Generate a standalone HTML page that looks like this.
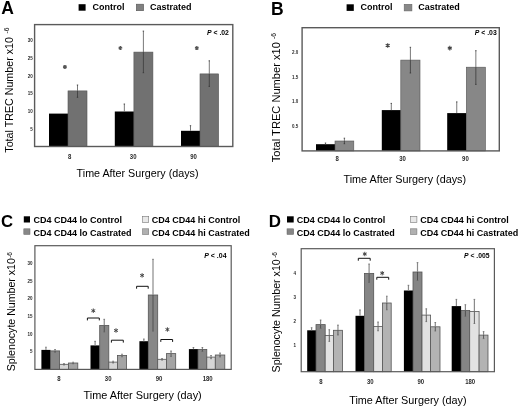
<!DOCTYPE html>
<html><head><meta charset="utf-8"><title>Figure</title>
<style>
html,body{margin:0;padding:0;background:#fff;}
body{width:520px;height:409px;overflow:hidden;}
svg{display:block;font-family:"Liberation Sans", sans-serif;filter:grayscale(1) blur(0.3px);}
</style></head>
<body>
<svg width="520" height="409" viewBox="0 0 520 409" font-family='"Liberation Sans", sans-serif'>
<rect x="0" y="0" width="520" height="409" fill="#fff"/>
<text x="1.30" y="13.70" font-size="17.5" font-weight="bold" font-style="normal" text-anchor="start" fill="#000" >A</text>
<rect x="78.60" y="4.20" width="7.00" height="6.50" fill="#000"/>
<text x="92.60" y="10.10" font-size="9" font-weight="bold" font-style="normal" text-anchor="start" fill="#000" >Control</text>
<rect x="136.30" y="4.20" width="7.30" height="6.50" fill="#808080" stroke="#555" stroke-width="0.6"/>
<text x="150.10" y="10.10" font-size="9" font-weight="bold" font-style="normal" text-anchor="start" fill="#000" >Castrated</text>
<rect x="49.00" y="113.60" width="19.00" height="32.90" fill="#000"/>
<rect x="68.00" y="90.90" width="19.00" height="55.60" fill="#717171" stroke="#555" stroke-width="0.6"/>
<line x1="77.50" y1="85.00" x2="77.50" y2="90.90" stroke="#6a6a6a" stroke-width="0.9"/>
<line x1="77.50" y1="90.90" x2="77.50" y2="97.30" stroke="#3a3a3a" stroke-width="0.8"/>
<line x1="76.80" y1="85.00" x2="78.20" y2="85.00" stroke="#333" stroke-width="0.8"/>
<line x1="76.80" y1="97.30" x2="78.20" y2="97.30" stroke="#333" stroke-width="0.8"/>
<rect x="114.80" y="111.50" width="19.10" height="35.00" fill="#000"/>
<line x1="124.35" y1="104.00" x2="124.35" y2="111.50" stroke="#6a6a6a" stroke-width="0.9"/>
<line x1="123.65" y1="104.00" x2="125.05" y2="104.00" stroke="#333" stroke-width="0.8"/>
<rect x="133.90" y="52.10" width="19.00" height="94.40" fill="#717171" stroke="#555" stroke-width="0.6"/>
<line x1="143.40" y1="31.10" x2="143.40" y2="52.10" stroke="#6a6a6a" stroke-width="0.9"/>
<line x1="143.40" y1="52.10" x2="143.40" y2="72.70" stroke="#3a3a3a" stroke-width="0.8"/>
<line x1="142.70" y1="31.10" x2="144.10" y2="31.10" stroke="#333" stroke-width="0.8"/>
<line x1="142.70" y1="72.70" x2="144.10" y2="72.70" stroke="#333" stroke-width="0.8"/>
<rect x="181.00" y="130.80" width="19.00" height="15.70" fill="#000"/>
<line x1="190.50" y1="125.70" x2="190.50" y2="130.80" stroke="#6a6a6a" stroke-width="0.9"/>
<line x1="189.80" y1="125.70" x2="191.20" y2="125.70" stroke="#333" stroke-width="0.8"/>
<rect x="200.00" y="73.90" width="18.60" height="72.60" fill="#717171" stroke="#555" stroke-width="0.6"/>
<line x1="209.30" y1="60.80" x2="209.30" y2="73.90" stroke="#6a6a6a" stroke-width="0.9"/>
<line x1="209.30" y1="73.90" x2="209.30" y2="86.40" stroke="#3a3a3a" stroke-width="0.8"/>
<line x1="208.60" y1="60.80" x2="210.00" y2="60.80" stroke="#333" stroke-width="0.8"/>
<line x1="208.60" y1="86.40" x2="210.00" y2="86.40" stroke="#333" stroke-width="0.8"/>
<rect x="34.60" y="24.60" width="198.20" height="121.90" fill="none" stroke="#5a5a5a" stroke-width="1.4"/>
<text x="32.70" y="42.30" font-size="4.5" font-weight="bold" font-style="normal" text-anchor="end" fill="#2a2a2a" >30</text>
<text x="32.70" y="60.00" font-size="4.5" font-weight="bold" font-style="normal" text-anchor="end" fill="#2a2a2a" >25</text>
<text x="32.70" y="77.70" font-size="4.5" font-weight="bold" font-style="normal" text-anchor="end" fill="#2a2a2a" >20</text>
<text x="32.70" y="95.40" font-size="4.5" font-weight="bold" font-style="normal" text-anchor="end" fill="#2a2a2a" >15</text>
<text x="32.70" y="113.10" font-size="4.5" font-weight="bold" font-style="normal" text-anchor="end" fill="#2a2a2a" >10</text>
<text x="32.70" y="130.80" font-size="4.5" font-weight="bold" font-style="normal" text-anchor="end" fill="#2a2a2a" >5</text>
<text transform="translate(69.60,158.60) scale(1,1.22)" font-size="6.0" font-weight="bold" font-style="normal" text-anchor="middle" fill="#2a2a2a" >8</text>
<text transform="translate(133.20,158.60) scale(1,1.22)" font-size="6.0" font-weight="bold" font-style="normal" text-anchor="middle" fill="#2a2a2a" >30</text>
<text transform="translate(193.60,158.60) scale(1,1.22)" font-size="6.0" font-weight="bold" font-style="normal" text-anchor="middle" fill="#2a2a2a" >90</text>
<path d="M64.90,64.90L64.90,68.90M63.17,65.90L66.63,67.90M66.63,65.90L63.17,67.90" stroke="#555" stroke-width="1.3" fill="none"/>
<path d="M120.40,46.00L120.40,50.00M118.67,47.00L122.13,49.00M122.13,47.00L118.67,49.00" stroke="#555" stroke-width="1.3" fill="none"/>
<path d="M196.80,46.10L196.80,50.10M195.07,47.10L198.53,49.10M198.53,47.10L195.07,49.10" stroke="#555" stroke-width="1.3" fill="none"/>
<text x="207.00" y="35.00" font-size="6.85" font-weight="bold" font-style="normal" text-anchor="start" fill="#000" ><tspan font-style="italic">P</tspan> &lt; .02</text>
<text x="76.60" y="176.60" font-size="10.74" font-weight="normal" font-style="normal" text-anchor="start" fill="#000" >Time After Surgery (days)</text>
<text transform="translate(13.00,152.70) rotate(-90)" font-size="10.7" fill="#000">Total TREC Number x10 <tspan font-size="6.8" dx="0.5" dy="-3.6">-6</tspan></text>
<text x="271.00" y="14.90" font-size="17.5" font-weight="bold" font-style="normal" text-anchor="start" fill="#000" >B</text>
<rect x="346.60" y="4.30" width="7.20" height="6.60" fill="#000"/>
<text x="360.60" y="10.20" font-size="9" font-weight="bold" font-style="normal" text-anchor="start" fill="#000" >Control</text>
<rect x="404.20" y="4.30" width="7.70" height="6.60" fill="#888" stroke="#666" stroke-width="0.6"/>
<text x="418.30" y="10.20" font-size="9" font-weight="bold" font-style="normal" text-anchor="start" fill="#000" >Castrated</text>
<rect x="316.00" y="144.20" width="19.00" height="6.70" fill="#000"/>
<line x1="325.50" y1="143.00" x2="325.50" y2="144.20" stroke="#6a6a6a" stroke-width="0.9"/>
<line x1="324.80" y1="143.00" x2="326.20" y2="143.00" stroke="#333" stroke-width="0.8"/>
<rect x="335.00" y="141.00" width="18.80" height="9.90" fill="#878787" stroke="#555" stroke-width="0.6"/>
<line x1="344.40" y1="138.20" x2="344.40" y2="141.00" stroke="#6a6a6a" stroke-width="0.9"/>
<line x1="344.40" y1="141.00" x2="344.40" y2="143.70" stroke="#3a3a3a" stroke-width="0.8"/>
<line x1="343.70" y1="138.20" x2="345.10" y2="138.20" stroke="#333" stroke-width="0.8"/>
<line x1="343.70" y1="143.70" x2="345.10" y2="143.70" stroke="#333" stroke-width="0.8"/>
<rect x="381.80" y="110.10" width="19.00" height="40.80" fill="#000"/>
<line x1="391.30" y1="103.40" x2="391.30" y2="110.10" stroke="#6a6a6a" stroke-width="0.9"/>
<line x1="390.60" y1="103.40" x2="392.00" y2="103.40" stroke="#333" stroke-width="0.8"/>
<rect x="400.80" y="60.10" width="19.20" height="90.80" fill="#878787" stroke="#555" stroke-width="0.6"/>
<line x1="410.40" y1="47.30" x2="410.40" y2="60.10" stroke="#6a6a6a" stroke-width="0.9"/>
<line x1="410.40" y1="60.10" x2="410.40" y2="73.00" stroke="#3a3a3a" stroke-width="0.8"/>
<line x1="409.70" y1="47.30" x2="411.10" y2="47.30" stroke="#333" stroke-width="0.8"/>
<line x1="409.70" y1="73.00" x2="411.10" y2="73.00" stroke="#333" stroke-width="0.8"/>
<rect x="447.20" y="113.10" width="19.10" height="37.80" fill="#000"/>
<line x1="456.75" y1="101.90" x2="456.75" y2="113.10" stroke="#6a6a6a" stroke-width="0.9"/>
<line x1="456.05" y1="101.90" x2="457.45" y2="101.90" stroke="#333" stroke-width="0.8"/>
<rect x="466.30" y="67.20" width="19.10" height="83.70" fill="#878787" stroke="#555" stroke-width="0.6"/>
<line x1="475.85" y1="50.70" x2="475.85" y2="67.20" stroke="#6a6a6a" stroke-width="0.9"/>
<line x1="475.85" y1="67.20" x2="475.85" y2="84.40" stroke="#3a3a3a" stroke-width="0.8"/>
<line x1="475.15" y1="50.70" x2="476.55" y2="50.70" stroke="#333" stroke-width="0.8"/>
<line x1="475.15" y1="84.40" x2="476.55" y2="84.40" stroke="#333" stroke-width="0.8"/>
<rect x="302.10" y="27.70" width="197.20" height="123.20" fill="none" stroke="#5a5a5a" stroke-width="1.4"/>
<text x="298.20" y="54.00" font-size="4.5" font-weight="bold" font-style="normal" text-anchor="end" fill="#2a2a2a" >2.0</text>
<text x="298.20" y="78.70" font-size="4.5" font-weight="bold" font-style="normal" text-anchor="end" fill="#2a2a2a" >1.5</text>
<text x="298.20" y="103.40" font-size="4.5" font-weight="bold" font-style="normal" text-anchor="end" fill="#2a2a2a" >1.0</text>
<text x="298.20" y="128.10" font-size="4.5" font-weight="bold" font-style="normal" text-anchor="end" fill="#2a2a2a" >0.5</text>
<text transform="translate(337.20,160.80) scale(1,1.22)" font-size="6.0" font-weight="bold" font-style="normal" text-anchor="middle" fill="#2a2a2a" >8</text>
<text transform="translate(402.60,160.80) scale(1,1.22)" font-size="6.0" font-weight="bold" font-style="normal" text-anchor="middle" fill="#2a2a2a" >30</text>
<text transform="translate(465.40,160.80) scale(1,1.22)" font-size="6.0" font-weight="bold" font-style="normal" text-anchor="middle" fill="#2a2a2a" >90</text>
<path d="M387.70,43.20L387.70,47.80M385.71,44.35L389.69,46.65M389.69,44.35L385.71,46.65" stroke="#444" stroke-width="1.1" fill="none"/>
<path d="M449.80,45.80L449.80,50.40M447.81,46.95L451.79,49.25M451.79,46.95L447.81,49.25" stroke="#444" stroke-width="1.1" fill="none"/>
<text x="474.80" y="35.00" font-size="6.85" font-weight="bold" font-style="normal" text-anchor="start" fill="#000" ><tspan font-style="italic">P</tspan> &lt; .03</text>
<text x="343.50" y="183.40" font-size="10.8" font-weight="normal" font-style="normal" text-anchor="start" fill="#000" >Time After Surgery (days)</text>
<text transform="translate(280.40,162.20) rotate(-90)" font-size="11.1" fill="#000">Total TREC Number x10 <tspan font-size="6.8" dx="0.0" dy="-4.0">-6</tspan></text>
<text x="1.10" y="227.10" font-size="16.7" font-weight="bold" font-style="normal" text-anchor="start" fill="#000" >C</text>
<rect x="23.80" y="216.30" width="6.20" height="6.20" fill="#000"/>
<text x="33.40" y="223.30" font-size="9" font-weight="bold" font-style="normal" text-anchor="start" fill="#000" >CD4 CD44 lo Control</text>
<rect x="23.80" y="228.80" width="6.20" height="5.70" fill="#878787" stroke="#666" stroke-width="0.5"/>
<text x="33.40" y="235.70" font-size="9" font-weight="bold" font-style="normal" text-anchor="start" fill="#000" >CD4 CD44 lo Castrated</text>
<rect x="142.60" y="216.30" width="6.10" height="6.20" fill="#e8e8e8" stroke="#777" stroke-width="0.6"/>
<text x="151.70" y="223.30" font-size="9" font-weight="bold" font-style="normal" text-anchor="start" fill="#000" >CD4 CD44 hi Control</text>
<rect x="142.60" y="228.80" width="6.10" height="5.70" fill="#b0b0b0" stroke="#777" stroke-width="0.6"/>
<text x="151.70" y="235.70" font-size="9" font-weight="bold" font-style="normal" text-anchor="start" fill="#000" >CD4 CD44 hi Castrated</text>
<rect x="41.40" y="349.90" width="9.10" height="19.50" fill="#000"/>
<line x1="45.95" y1="347.20" x2="45.95" y2="349.90" stroke="#8a8a8a" stroke-width="1.2"/>
<line x1="45.15" y1="347.20" x2="46.75" y2="347.20" stroke="#666" stroke-width="0.8"/>
<rect x="50.50" y="350.90" width="9.10" height="18.50" fill="#878787" stroke="#555" stroke-width="0.8"/>
<line x1="55.05" y1="349.50" x2="55.05" y2="350.90" stroke="#8a8a8a" stroke-width="1.2"/>
<line x1="55.05" y1="350.90" x2="55.05" y2="352.30" stroke="#444" stroke-width="0.8"/>
<line x1="54.25" y1="349.50" x2="55.85" y2="349.50" stroke="#666" stroke-width="0.8"/>
<line x1="54.25" y1="352.30" x2="55.85" y2="352.30" stroke="#666" stroke-width="0.8"/>
<rect x="59.60" y="364.30" width="8.80" height="5.10" fill="#d6d6d6" stroke="#555" stroke-width="0.8"/>
<line x1="64.00" y1="363.60" x2="64.00" y2="364.30" stroke="#8a8a8a" stroke-width="1.2"/>
<line x1="64.00" y1="364.30" x2="64.00" y2="365.00" stroke="#444" stroke-width="0.8"/>
<line x1="63.20" y1="363.60" x2="64.80" y2="363.60" stroke="#666" stroke-width="0.8"/>
<line x1="63.20" y1="365.00" x2="64.80" y2="365.00" stroke="#666" stroke-width="0.8"/>
<rect x="68.40" y="363.00" width="9.40" height="6.40" fill="#a4a4a4" stroke="#555" stroke-width="0.8"/>
<line x1="73.10" y1="362.20" x2="73.10" y2="363.00" stroke="#8a8a8a" stroke-width="1.2"/>
<line x1="73.10" y1="363.00" x2="73.10" y2="363.80" stroke="#444" stroke-width="0.8"/>
<line x1="72.30" y1="362.20" x2="73.90" y2="362.20" stroke="#666" stroke-width="0.8"/>
<line x1="72.30" y1="363.80" x2="73.90" y2="363.80" stroke="#666" stroke-width="0.8"/>
<rect x="90.50" y="345.40" width="9.20" height="24.00" fill="#000"/>
<line x1="95.10" y1="341.30" x2="95.10" y2="345.40" stroke="#8a8a8a" stroke-width="1.2"/>
<line x1="94.30" y1="341.30" x2="95.90" y2="341.30" stroke="#666" stroke-width="0.8"/>
<rect x="99.70" y="325.40" width="9.10" height="44.00" fill="#878787" stroke="#555" stroke-width="0.8"/>
<line x1="104.25" y1="319.30" x2="104.25" y2="325.40" stroke="#8a8a8a" stroke-width="1.2"/>
<line x1="104.25" y1="325.40" x2="104.25" y2="332.00" stroke="#444" stroke-width="0.8"/>
<line x1="103.45" y1="319.30" x2="105.05" y2="319.30" stroke="#666" stroke-width="0.8"/>
<line x1="103.45" y1="332.00" x2="105.05" y2="332.00" stroke="#666" stroke-width="0.8"/>
<rect x="108.80" y="362.10" width="8.60" height="7.30" fill="#d6d6d6" stroke="#555" stroke-width="0.8"/>
<line x1="113.10" y1="361.20" x2="113.10" y2="362.10" stroke="#8a8a8a" stroke-width="1.2"/>
<line x1="113.10" y1="362.10" x2="113.10" y2="363.00" stroke="#444" stroke-width="0.8"/>
<line x1="112.30" y1="361.20" x2="113.90" y2="361.20" stroke="#666" stroke-width="0.8"/>
<line x1="112.30" y1="363.00" x2="113.90" y2="363.00" stroke="#666" stroke-width="0.8"/>
<rect x="117.40" y="355.50" width="9.20" height="13.90" fill="#a4a4a4" stroke="#555" stroke-width="0.8"/>
<line x1="122.00" y1="354.20" x2="122.00" y2="355.50" stroke="#8a8a8a" stroke-width="1.2"/>
<line x1="122.00" y1="355.50" x2="122.00" y2="356.80" stroke="#444" stroke-width="0.8"/>
<line x1="121.20" y1="354.20" x2="122.80" y2="354.20" stroke="#666" stroke-width="0.8"/>
<line x1="121.20" y1="356.80" x2="122.80" y2="356.80" stroke="#666" stroke-width="0.8"/>
<rect x="139.40" y="341.20" width="8.90" height="28.20" fill="#000"/>
<line x1="143.85" y1="339.00" x2="143.85" y2="341.20" stroke="#8a8a8a" stroke-width="1.2"/>
<line x1="143.05" y1="339.00" x2="144.65" y2="339.00" stroke="#666" stroke-width="0.8"/>
<rect x="148.30" y="295.00" width="9.40" height="74.40" fill="#878787" stroke="#555" stroke-width="0.8"/>
<line x1="153.00" y1="259.30" x2="153.00" y2="295.00" stroke="#8a8a8a" stroke-width="1.2"/>
<line x1="153.00" y1="295.00" x2="153.00" y2="331.20" stroke="#444" stroke-width="0.8"/>
<line x1="152.20" y1="259.30" x2="153.80" y2="259.30" stroke="#666" stroke-width="0.8"/>
<line x1="152.20" y1="331.20" x2="153.80" y2="331.20" stroke="#666" stroke-width="0.8"/>
<rect x="157.70" y="359.30" width="8.70" height="10.10" fill="#d6d6d6" stroke="#555" stroke-width="0.8"/>
<line x1="162.05" y1="358.50" x2="162.05" y2="359.30" stroke="#8a8a8a" stroke-width="1.2"/>
<line x1="162.05" y1="359.30" x2="162.05" y2="360.10" stroke="#444" stroke-width="0.8"/>
<line x1="161.25" y1="358.50" x2="162.85" y2="358.50" stroke="#666" stroke-width="0.8"/>
<line x1="161.25" y1="360.10" x2="162.85" y2="360.10" stroke="#666" stroke-width="0.8"/>
<rect x="166.40" y="353.60" width="9.30" height="15.80" fill="#a4a4a4" stroke="#555" stroke-width="0.8"/>
<line x1="171.05" y1="351.00" x2="171.05" y2="353.60" stroke="#8a8a8a" stroke-width="1.2"/>
<line x1="171.05" y1="353.60" x2="171.05" y2="356.50" stroke="#444" stroke-width="0.8"/>
<line x1="170.25" y1="351.00" x2="171.85" y2="351.00" stroke="#666" stroke-width="0.8"/>
<line x1="170.25" y1="356.50" x2="171.85" y2="356.50" stroke="#666" stroke-width="0.8"/>
<rect x="188.90" y="349.10" width="9.10" height="20.30" fill="#000"/>
<line x1="193.45" y1="347.50" x2="193.45" y2="349.10" stroke="#8a8a8a" stroke-width="1.2"/>
<line x1="192.65" y1="347.50" x2="194.25" y2="347.50" stroke="#666" stroke-width="0.8"/>
<rect x="198.00" y="349.40" width="8.80" height="20.00" fill="#878787" stroke="#555" stroke-width="0.8"/>
<line x1="202.40" y1="347.50" x2="202.40" y2="349.40" stroke="#8a8a8a" stroke-width="1.2"/>
<line x1="202.40" y1="349.40" x2="202.40" y2="351.50" stroke="#444" stroke-width="0.8"/>
<line x1="201.60" y1="347.50" x2="203.20" y2="347.50" stroke="#666" stroke-width="0.8"/>
<line x1="201.60" y1="351.50" x2="203.20" y2="351.50" stroke="#666" stroke-width="0.8"/>
<rect x="206.80" y="357.10" width="8.50" height="12.30" fill="#d6d6d6" stroke="#555" stroke-width="0.8"/>
<line x1="211.05" y1="355.50" x2="211.05" y2="357.10" stroke="#8a8a8a" stroke-width="1.2"/>
<line x1="211.05" y1="357.10" x2="211.05" y2="358.70" stroke="#444" stroke-width="0.8"/>
<line x1="210.25" y1="355.50" x2="211.85" y2="355.50" stroke="#666" stroke-width="0.8"/>
<line x1="210.25" y1="358.70" x2="211.85" y2="358.70" stroke="#666" stroke-width="0.8"/>
<rect x="215.30" y="355.00" width="9.50" height="14.40" fill="#a4a4a4" stroke="#555" stroke-width="0.8"/>
<line x1="220.05" y1="353.00" x2="220.05" y2="355.00" stroke="#8a8a8a" stroke-width="1.2"/>
<line x1="220.05" y1="355.00" x2="220.05" y2="357.00" stroke="#444" stroke-width="0.8"/>
<line x1="219.25" y1="353.00" x2="220.85" y2="353.00" stroke="#666" stroke-width="0.8"/>
<line x1="219.25" y1="357.00" x2="220.85" y2="357.00" stroke="#666" stroke-width="0.8"/>
<rect x="34.90" y="245.70" width="196.30" height="123.70" fill="none" stroke="#5a5a5a" stroke-width="1.2"/>
<text x="32.40" y="265.20" font-size="4.5" font-weight="bold" font-style="normal" text-anchor="end" fill="#2a2a2a" >30</text>
<text x="32.40" y="282.80" font-size="4.5" font-weight="bold" font-style="normal" text-anchor="end" fill="#2a2a2a" >25</text>
<text x="32.40" y="300.40" font-size="4.5" font-weight="bold" font-style="normal" text-anchor="end" fill="#2a2a2a" >20</text>
<text x="32.40" y="318.00" font-size="4.5" font-weight="bold" font-style="normal" text-anchor="end" fill="#2a2a2a" >15</text>
<text x="32.40" y="335.60" font-size="4.5" font-weight="bold" font-style="normal" text-anchor="end" fill="#2a2a2a" >10</text>
<text x="32.40" y="353.20" font-size="4.5" font-weight="bold" font-style="normal" text-anchor="end" fill="#2a2a2a" >5</text>
<text transform="translate(58.90,381.30) scale(1,1.22)" font-size="6.0" font-weight="bold" font-style="normal" text-anchor="middle" fill="#2a2a2a" >8</text>
<text transform="translate(108.20,381.30) scale(1,1.22)" font-size="6.0" font-weight="bold" font-style="normal" text-anchor="middle" fill="#2a2a2a" >30</text>
<text transform="translate(159.10,381.30) scale(1,1.22)" font-size="6.0" font-weight="bold" font-style="normal" text-anchor="middle" fill="#2a2a2a" >90</text>
<text transform="translate(207.70,381.30) scale(1,1.22)" font-size="6.0" font-weight="bold" font-style="normal" text-anchor="middle" fill="#2a2a2a" >180</text>
<polyline points="87.40,320.40 87.40,318.00 99.30,318.00 99.30,320.40" fill="none" stroke="#111" stroke-width="1.0"/>
<polyline points="111.40,342.60 111.40,340.20 123.30,340.20 123.30,342.60" fill="none" stroke="#111" stroke-width="1.0"/>
<polyline points="136.60,288.70 136.60,286.30 148.20,286.30 148.20,288.70" fill="none" stroke="#111" stroke-width="1.0"/>
<polyline points="160.80,341.90 160.80,339.50 172.60,339.50 172.60,341.90" fill="none" stroke="#111" stroke-width="1.0"/>
<path d="M93.30,308.50L93.30,312.90M91.39,309.60L95.21,311.80M95.21,309.60L91.39,311.80" stroke="#444" stroke-width="1.0" fill="none"/>
<path d="M116.00,328.30L116.00,332.70M114.09,329.40L117.91,331.60M117.91,329.40L114.09,331.60" stroke="#444" stroke-width="1.0" fill="none"/>
<path d="M142.10,273.20L142.10,277.60M140.19,274.30L144.01,276.50M144.01,274.30L140.19,276.50" stroke="#444" stroke-width="1.0" fill="none"/>
<path d="M167.40,327.30L167.40,331.70M165.49,328.40L169.31,330.60M169.31,328.40L165.49,330.60" stroke="#444" stroke-width="1.0" fill="none"/>
<text x="204.30" y="258.00" font-size="6.95" font-weight="bold" font-style="normal" text-anchor="start" fill="#000" ><tspan font-style="italic">P</tspan> &lt; .04</text>
<text x="83.50" y="399.30" font-size="10.9" font-weight="normal" font-style="normal" text-anchor="start" fill="#000" >Time After Surgery (day)</text>
<text transform="translate(15.20,371.20) rotate(-90)" font-size="10.6" fill="#000">Splenocyte Number x10<tspan font-size="6.6" dx="0.3" dy="-3.6">-6</tspan></text>
<text x="268.80" y="227.00" font-size="16.9" font-weight="bold" font-style="normal" text-anchor="start" fill="#000" >D</text>
<rect x="287.00" y="216.30" width="6.70" height="6.20" fill="#000"/>
<text x="296.70" y="223.30" font-size="9" font-weight="bold" font-style="normal" text-anchor="start" fill="#000" >CD4 CD44 lo Control</text>
<rect x="287.00" y="228.80" width="6.70" height="5.70" fill="#858585" stroke="#666" stroke-width="0.5"/>
<text x="296.70" y="235.70" font-size="9" font-weight="bold" font-style="normal" text-anchor="start" fill="#000" >CD4 CD44 lo Castrated</text>
<rect x="410.60" y="216.30" width="6.30" height="6.20" fill="#e8e8e8" stroke="#777" stroke-width="0.6"/>
<text x="420.20" y="223.30" font-size="9" font-weight="bold" font-style="normal" text-anchor="start" fill="#000" >CD4 CD44 hi Control</text>
<rect x="410.60" y="228.80" width="6.30" height="5.70" fill="#b0b0b0" stroke="#777" stroke-width="0.6"/>
<text x="420.20" y="235.70" font-size="9" font-weight="bold" font-style="normal" text-anchor="start" fill="#000" >CD4 CD44 hi Castrated</text>
<rect x="307.20" y="330.30" width="8.80" height="41.40" fill="#000"/>
<line x1="311.60" y1="327.70" x2="311.60" y2="330.30" stroke="#8a8a8a" stroke-width="1.2"/>
<line x1="310.80" y1="327.70" x2="312.40" y2="327.70" stroke="#666" stroke-width="0.8"/>
<rect x="316.00" y="324.60" width="9.20" height="47.10" fill="#858585" stroke="#555" stroke-width="0.8"/>
<line x1="320.60" y1="320.00" x2="320.60" y2="324.60" stroke="#8a8a8a" stroke-width="1.2"/>
<line x1="320.60" y1="324.60" x2="320.60" y2="328.50" stroke="#444" stroke-width="0.8"/>
<line x1="319.80" y1="320.00" x2="321.40" y2="320.00" stroke="#666" stroke-width="0.8"/>
<line x1="319.80" y1="328.50" x2="321.40" y2="328.50" stroke="#666" stroke-width="0.8"/>
<rect x="325.20" y="335.40" width="8.20" height="36.30" fill="#e2e2e2" stroke="#555" stroke-width="0.8"/>
<line x1="329.30" y1="329.70" x2="329.30" y2="335.40" stroke="#8a8a8a" stroke-width="1.2"/>
<line x1="329.30" y1="335.40" x2="329.30" y2="341.40" stroke="#444" stroke-width="0.8"/>
<line x1="328.50" y1="329.70" x2="330.10" y2="329.70" stroke="#666" stroke-width="0.8"/>
<line x1="328.50" y1="341.40" x2="330.10" y2="341.40" stroke="#666" stroke-width="0.8"/>
<rect x="333.40" y="330.30" width="9.10" height="41.40" fill="#b3b3b3" stroke="#555" stroke-width="0.8"/>
<line x1="337.95" y1="325.10" x2="337.95" y2="330.30" stroke="#8a8a8a" stroke-width="1.2"/>
<line x1="337.95" y1="330.30" x2="337.95" y2="335.00" stroke="#444" stroke-width="0.8"/>
<line x1="337.15" y1="325.10" x2="338.75" y2="325.10" stroke="#666" stroke-width="0.8"/>
<line x1="337.15" y1="335.00" x2="338.75" y2="335.00" stroke="#666" stroke-width="0.8"/>
<rect x="355.50" y="315.80" width="9.00" height="55.90" fill="#000"/>
<line x1="360.00" y1="309.90" x2="360.00" y2="315.80" stroke="#8a8a8a" stroke-width="1.2"/>
<line x1="359.20" y1="309.90" x2="360.80" y2="309.90" stroke="#666" stroke-width="0.8"/>
<rect x="364.50" y="273.40" width="9.20" height="98.30" fill="#858585" stroke="#555" stroke-width="0.8"/>
<line x1="369.10" y1="264.00" x2="369.10" y2="273.40" stroke="#8a8a8a" stroke-width="1.2"/>
<line x1="369.10" y1="273.40" x2="369.10" y2="282.50" stroke="#444" stroke-width="0.8"/>
<line x1="368.30" y1="264.00" x2="369.90" y2="264.00" stroke="#666" stroke-width="0.8"/>
<line x1="368.30" y1="282.50" x2="369.90" y2="282.50" stroke="#666" stroke-width="0.8"/>
<rect x="373.70" y="326.40" width="8.70" height="45.30" fill="#e2e2e2" stroke="#555" stroke-width="0.8"/>
<line x1="378.05" y1="322.00" x2="378.05" y2="326.40" stroke="#8a8a8a" stroke-width="1.2"/>
<line x1="378.05" y1="326.40" x2="378.05" y2="330.80" stroke="#444" stroke-width="0.8"/>
<line x1="377.25" y1="322.00" x2="378.85" y2="322.00" stroke="#666" stroke-width="0.8"/>
<line x1="377.25" y1="330.80" x2="378.85" y2="330.80" stroke="#666" stroke-width="0.8"/>
<rect x="382.40" y="303.00" width="8.80" height="68.70" fill="#b3b3b3" stroke="#555" stroke-width="0.8"/>
<line x1="386.80" y1="296.20" x2="386.80" y2="303.00" stroke="#8a8a8a" stroke-width="1.2"/>
<line x1="386.80" y1="303.00" x2="386.80" y2="309.80" stroke="#444" stroke-width="0.8"/>
<line x1="386.00" y1="296.20" x2="387.60" y2="296.20" stroke="#666" stroke-width="0.8"/>
<line x1="386.00" y1="309.80" x2="387.60" y2="309.80" stroke="#666" stroke-width="0.8"/>
<rect x="403.90" y="290.50" width="9.10" height="81.20" fill="#000"/>
<line x1="408.45" y1="285.30" x2="408.45" y2="290.50" stroke="#8a8a8a" stroke-width="1.2"/>
<line x1="407.65" y1="285.30" x2="409.25" y2="285.30" stroke="#666" stroke-width="0.8"/>
<rect x="413.00" y="272.00" width="9.00" height="99.70" fill="#858585" stroke="#555" stroke-width="0.8"/>
<line x1="417.50" y1="262.60" x2="417.50" y2="272.00" stroke="#8a8a8a" stroke-width="1.2"/>
<line x1="417.50" y1="272.00" x2="417.50" y2="280.50" stroke="#444" stroke-width="0.8"/>
<line x1="416.70" y1="262.60" x2="418.30" y2="262.60" stroke="#666" stroke-width="0.8"/>
<line x1="416.70" y1="280.50" x2="418.30" y2="280.50" stroke="#666" stroke-width="0.8"/>
<rect x="422.00" y="315.10" width="8.60" height="56.60" fill="#e2e2e2" stroke="#555" stroke-width="0.8"/>
<line x1="426.30" y1="308.80" x2="426.30" y2="315.10" stroke="#8a8a8a" stroke-width="1.2"/>
<line x1="426.30" y1="315.10" x2="426.30" y2="321.60" stroke="#444" stroke-width="0.8"/>
<line x1="425.50" y1="308.80" x2="427.10" y2="308.80" stroke="#666" stroke-width="0.8"/>
<line x1="425.50" y1="321.60" x2="427.10" y2="321.60" stroke="#666" stroke-width="0.8"/>
<rect x="430.60" y="326.80" width="9.40" height="44.90" fill="#b3b3b3" stroke="#555" stroke-width="0.8"/>
<line x1="435.30" y1="322.50" x2="435.30" y2="326.80" stroke="#8a8a8a" stroke-width="1.2"/>
<line x1="435.30" y1="326.80" x2="435.30" y2="331.00" stroke="#444" stroke-width="0.8"/>
<line x1="434.50" y1="322.50" x2="436.10" y2="322.50" stroke="#666" stroke-width="0.8"/>
<line x1="434.50" y1="331.00" x2="436.10" y2="331.00" stroke="#666" stroke-width="0.8"/>
<rect x="451.70" y="306.10" width="9.40" height="65.60" fill="#000"/>
<line x1="456.40" y1="299.40" x2="456.40" y2="306.10" stroke="#8a8a8a" stroke-width="1.2"/>
<line x1="455.60" y1="299.40" x2="457.20" y2="299.40" stroke="#666" stroke-width="0.8"/>
<rect x="461.10" y="310.40" width="8.60" height="61.30" fill="#858585" stroke="#555" stroke-width="0.8"/>
<line x1="465.40" y1="304.70" x2="465.40" y2="310.40" stroke="#8a8a8a" stroke-width="1.2"/>
<line x1="465.40" y1="310.40" x2="465.40" y2="316.30" stroke="#444" stroke-width="0.8"/>
<line x1="464.60" y1="304.70" x2="466.20" y2="304.70" stroke="#666" stroke-width="0.8"/>
<line x1="464.60" y1="316.30" x2="466.20" y2="316.30" stroke="#666" stroke-width="0.8"/>
<rect x="469.70" y="311.50" width="9.40" height="60.20" fill="#e2e2e2" stroke="#555" stroke-width="0.8"/>
<line x1="474.40" y1="299.40" x2="474.40" y2="311.50" stroke="#8a8a8a" stroke-width="1.2"/>
<line x1="474.40" y1="311.50" x2="474.40" y2="323.50" stroke="#444" stroke-width="0.8"/>
<line x1="473.60" y1="299.40" x2="475.20" y2="299.40" stroke="#666" stroke-width="0.8"/>
<line x1="473.60" y1="323.50" x2="475.20" y2="323.50" stroke="#666" stroke-width="0.8"/>
<rect x="479.10" y="335.10" width="8.90" height="36.60" fill="#b3b3b3" stroke="#555" stroke-width="0.8"/>
<line x1="483.55" y1="331.60" x2="483.55" y2="335.10" stroke="#8a8a8a" stroke-width="1.2"/>
<line x1="483.55" y1="335.10" x2="483.55" y2="338.60" stroke="#444" stroke-width="0.8"/>
<line x1="482.75" y1="331.60" x2="484.35" y2="331.60" stroke="#666" stroke-width="0.8"/>
<line x1="482.75" y1="338.60" x2="484.35" y2="338.60" stroke="#666" stroke-width="0.8"/>
<rect x="301.20" y="248.70" width="193.20" height="123.00" fill="none" stroke="#5a5a5a" stroke-width="1.2"/>
<text x="295.90" y="275.40" font-size="4.5" font-weight="bold" font-style="normal" text-anchor="end" fill="#2a2a2a" >4</text>
<text x="295.90" y="299.30" font-size="4.5" font-weight="bold" font-style="normal" text-anchor="end" fill="#2a2a2a" >3</text>
<text x="295.90" y="323.10" font-size="4.5" font-weight="bold" font-style="normal" text-anchor="end" fill="#2a2a2a" >2</text>
<text x="295.90" y="347.30" font-size="4.5" font-weight="bold" font-style="normal" text-anchor="end" fill="#2a2a2a" >1</text>
<text transform="translate(320.90,384.00) scale(1,1.22)" font-size="6.0" font-weight="bold" font-style="normal" text-anchor="middle" fill="#2a2a2a" >8</text>
<text transform="translate(370.30,384.00) scale(1,1.22)" font-size="6.0" font-weight="bold" font-style="normal" text-anchor="middle" fill="#2a2a2a" >30</text>
<text transform="translate(420.80,384.00) scale(1,1.22)" font-size="6.0" font-weight="bold" font-style="normal" text-anchor="middle" fill="#2a2a2a" >90</text>
<text transform="translate(470.20,384.00) scale(1,1.22)" font-size="6.0" font-weight="bold" font-style="normal" text-anchor="middle" fill="#2a2a2a" >180</text>
<polyline points="358.30,260.70 358.30,258.30 370.20,258.30 370.20,260.70" fill="none" stroke="#111" stroke-width="1.0"/>
<polyline points="376.80,279.70 376.80,277.30 388.70,277.30 388.70,279.70" fill="none" stroke="#111" stroke-width="1.0"/>
<path d="M364.80,251.80L364.80,256.20M362.89,252.90L366.71,255.10M366.71,252.90L362.89,255.10" stroke="#444" stroke-width="1.0" fill="none"/>
<path d="M382.20,271.00L382.20,275.40M380.29,272.10L384.11,274.30M384.11,272.10L380.29,274.30" stroke="#444" stroke-width="1.0" fill="none"/>
<text x="464.00" y="257.80" font-size="6.8" font-weight="bold" font-style="normal" text-anchor="start" fill="#000" ><tspan font-style="italic">P</tspan> &lt; .005</text>
<text x="349.20" y="404.40" font-size="10.82" font-weight="normal" font-style="normal" text-anchor="start" fill="#000" >Time After Surgery (day)</text>
<text transform="translate(279.80,372.40) rotate(-90)" font-size="10.6" fill="#000">Splenocyte Number x10<tspan font-size="6.6" dx="1.5" dy="-3.2">-6</tspan></text>
</svg>
</body></html>
